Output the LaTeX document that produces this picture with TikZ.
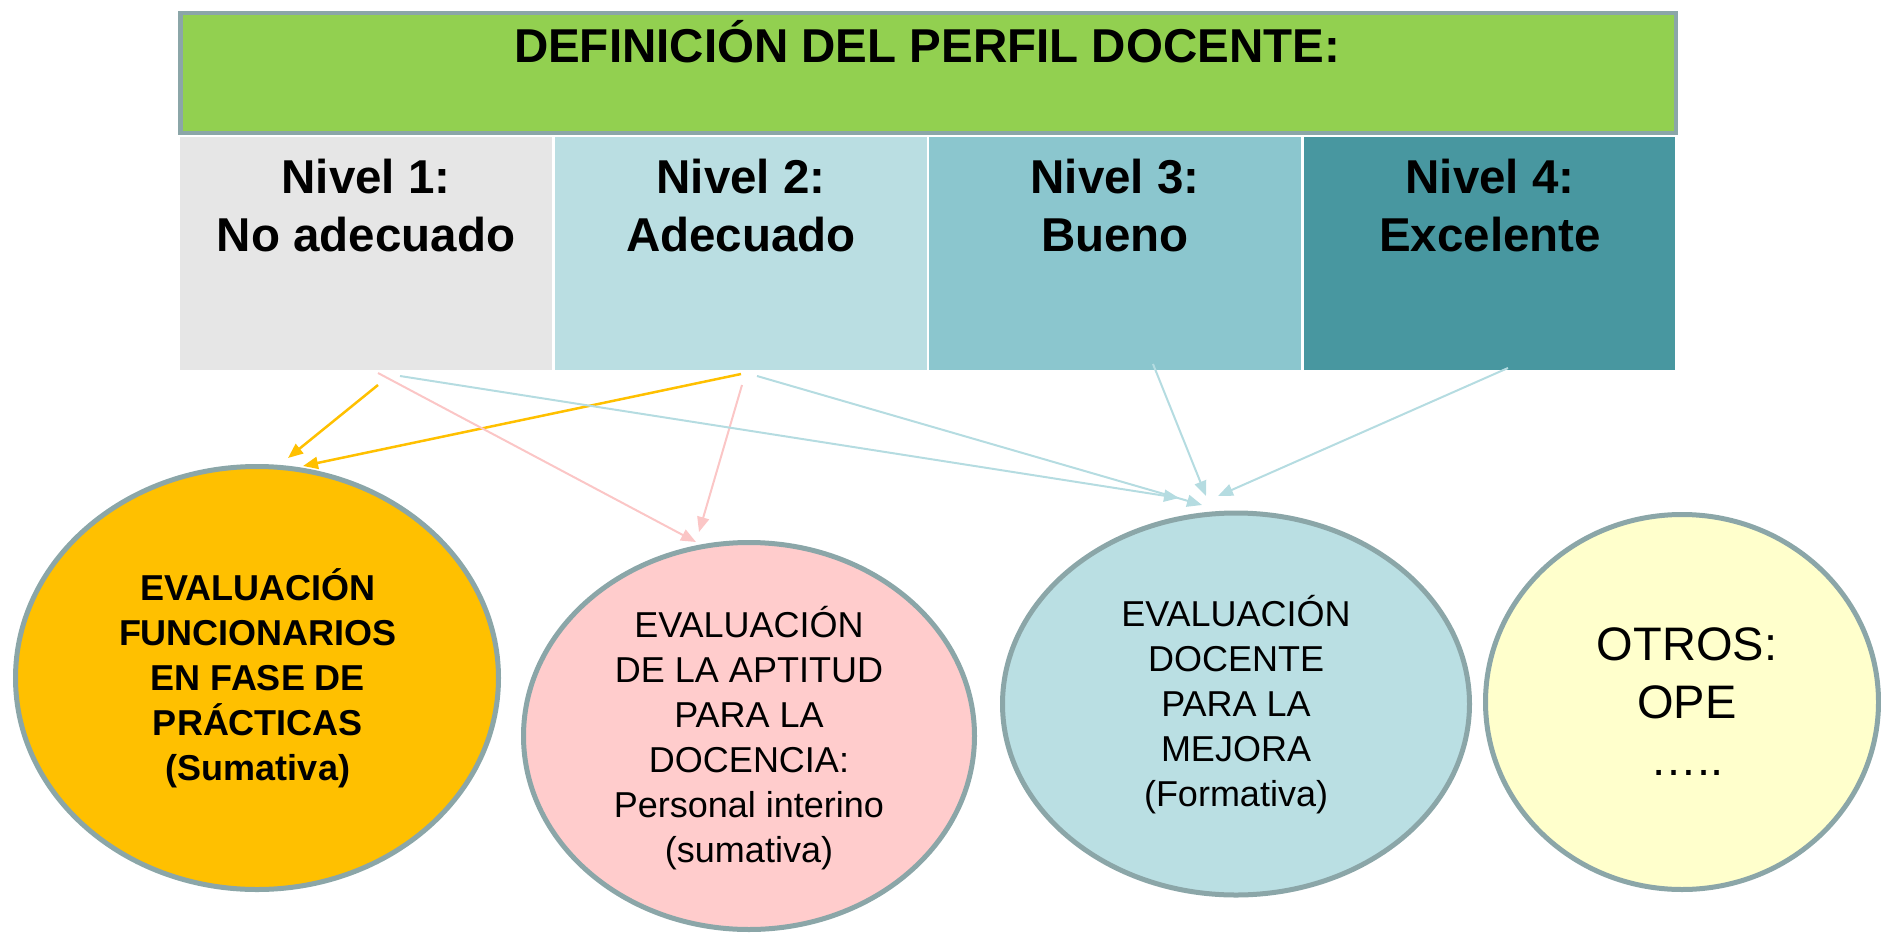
\documentclass[tikz,border=0pt]{standalone}
\usepackage{fontspec}
\setmainfont{Liberation Sans}
\usetikzlibrary{arrows.meta,shapes.geometric,calc}
\definecolor{hgreen}{HTML}{92D050}
\definecolor{bgray}{HTML}{8BA6A8}
\definecolor{lv1}{HTML}{E6E6E6}
\definecolor{lv2}{HTML}{BADEE2}
\definecolor{lv3}{HTML}{8BC6CE}
\definecolor{lv4}{HTML}{4897A0}
\definecolor{corange}{HTML}{FFC000}
\definecolor{cpink}{HTML}{FFCCCC}
\definecolor{cblue}{HTML}{BADFE3}
\definecolor{cyellow}{HTML}{FFFFCC}
\definecolor{apink}{HTML}{FBC6C6}
\definecolor{ablue}{HTML}{B5DCE1}
\begin{document}
\begin{tikzpicture}[x=1pt,y=-1pt,
  header/.style={draw=bgray, line width=4.5pt, fill=hgreen, rectangle, inner sep=0pt},
  titletext/.style={font=\fontsize{47.5}{58}\selectfont\bfseries, inner sep=0pt},
  lvl/.style={rectangle, draw=none, inner sep=0pt, minimum height=233pt},
  lvltext/.style={font=\fontsize{47.5}{58}\selectfont\bfseries, align=center, inner sep=0pt},
  evalbox/.style={ellipse, draw=bgray, line width=5pt, inner sep=0pt},
  evaltext/.style={align=center, inner sep=0pt, font=\fontsize{36}{45}\selectfont},
  arr/.style={line width=2pt, -{Triangle[length=15pt,width=12pt]}},
]
\useasboundingbox (0,0) rectangle (1881,934);

% header
\node[header, minimum width=1495.5pt, minimum height=119.5pt] (head) at (928,73) {};
\node[titletext, anchor=base] (title) at (927,63) {DEFINICIÓN DEL PERFIL DOCENTE:};

% level boxes
\node[lvl, fill=lv1, minimum width=372pt] (n1) at (366,253.5) {};
\node[lvl, fill=lv2, minimum width=372pt] (n2) at (741,253.5) {};
\node[lvl, fill=lv3, minimum width=372pt] (n3) at (1115,253.5) {};
\node[lvl, fill=lv4, minimum width=371pt] (n4) at (1489.5,253.5) {};

\node[lvltext, anchor=north] (l1) at (366,159) {Nivel 1:\\No adecuado};
\node[lvltext, anchor=north] (l2) at (741,159) {Nivel 2:\\Adecuado};
\node[lvltext, anchor=north] (l3) at (1115,159) {Nivel 3:\\Bueno};
\node[lvltext, anchor=north] (l4) at (1490,159) {Nivel 4:\\Excelente};

% ellipses
\node[evalbox, fill=corange, minimum width=483pt, minimum height=423pt] (e1) at (257,678) {};
\node[evalbox, fill=cpink, minimum width=451pt, minimum height=387pt] (e2) at (749,736) {};
\node[evalbox, fill=cblue, minimum width=467pt, minimum height=382pt] (e3) at (1236,704) {};
\node[evalbox, fill=cyellow, minimum width=393pt, minimum height=375pt] (e4) at (1682,702) {};

\node[evaltext, font=\fontsize{36}{45}\selectfont\bfseries] (x1) at ($(e1)+(1,4)$)
  {EVALUACI\smash{Ó}N\\FUNCIONARIOS\\EN FASE DE\\PR\smash{Á}CTICAS\\(Sumativa)};
\node[evaltext] (x2) at ($(e2)+(0,5)$)
  {EVALUACI\smash{Ó}N\\DE LA APTITUD\\PARA LA\\DOCENCIA:\\Personal interino\\(sumativa)};
\node[evaltext] (x3) at ($(e3)+(0,4)$)
  {EVALUACI\smash{Ó}N\\DOCENTE\\PARA LA\\MEJORA\\(Formativa)};
\node[evaltext, font=\fontsize{47}{57.5}\selectfont] (x4) at ($(e4)+(5,0)$)
  {OTROS:\\OPE\\…..};

% connector end points
\coordinate (s1) at (378,385);  \coordinate (t1) at (288,458);
\coordinate (s2) at (741,374);  \coordinate (t2) at (303,466);
\coordinate (s3) at (378,373);  \coordinate (t3) at (696,542);
\coordinate (s4) at (742,385);  \coordinate (t4) at (699,532);
\coordinate (s5) at (400,376);  \coordinate (t5) at (1179,498);
\coordinate (s6) at (757,376);  \coordinate (t6) at (1202,505);
\coordinate (s7) at (1153,364); \coordinate (t7) at (1206,496);
\coordinate (s8) at (1508,368); \coordinate (t8) at (1218,496);

\draw[arr, draw=corange, fill=corange, line width=2.5pt] (s1) -- (t1);
\draw[arr, draw=corange, fill=corange, line width=2.5pt] (s2) -- (t2);
\draw[arr, draw=apink, fill=apink] (s3) -- (t3);
\draw[arr, draw=apink, fill=apink] (s4) -- (t4);
\draw[arr, draw=ablue, fill=ablue] (s5) -- (t5);
\draw[arr, draw=ablue, fill=ablue] (s6) -- (t6);
\draw[arr, draw=ablue, fill=ablue] (s7) -- (t7);
\draw[arr, draw=ablue, fill=ablue] (s8) -- (t8);
\end{tikzpicture}
\end{document}
